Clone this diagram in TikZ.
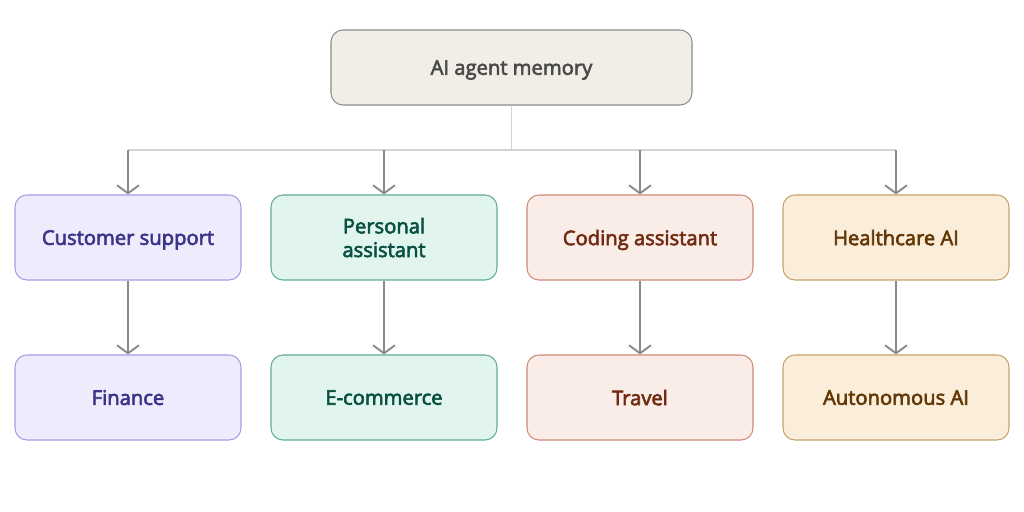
\documentclass[tikz,border=0pt]{standalone}
\usepackage{fontspec}
\setmainfont{Open Sans}[FakeBold=3]
\usetikzlibrary{arrows.meta, positioning}

\definecolor{topfill}{HTML}{F1EEE7}
\definecolor{topdraw}{HTML}{8C8C88}
\definecolor{toptext}{HTML}{4A4A48}
\definecolor{purfill}{HTML}{EEECFC}
\definecolor{purdraw}{HTML}{A39CE4}
\definecolor{purtext}{HTML}{3C3489}
\definecolor{grnfill}{HTML}{E1F5EE}
\definecolor{grndraw}{HTML}{5FAE8C}
\definecolor{grntext}{HTML}{085041}
\definecolor{redfill}{HTML}{FAECE7}
\definecolor{reddraw}{HTML}{D08A76}
\definecolor{redtext}{HTML}{712B13}
\definecolor{orgfill}{HTML}{FAEEDA}
\definecolor{orgdraw}{HTML}{C8A06C}
\definecolor{orgtext}{HTML}{633806}
\definecolor{busgray}{HTML}{D3D3D1}
\definecolor{arrgray}{HTML}{8A8A86}

\tikzset{
  box/.style={rounded corners=0.24cm, line width=0.6pt, minimum width=4.52cm,
    minimum height=1.7cm, align=center, text depth=0pt, font=\fontsize{11.5}{13.5}\selectfont},
  rootbox/.style={box, fill=topfill, draw=topdraw, text=toptext, minimum width=7.22cm, minimum height=1.5cm},
  purbox/.style={box, fill=purfill, draw=purdraw, text=purtext},
  grnbox/.style={box, fill=grnfill, draw=grndraw, text=grntext},
  redbox/.style={box, fill=redfill, draw=reddraw, text=redtext},
  orgbox/.style={box, fill=orgfill, draw=orgdraw, text=orgtext},
  bus/.style={draw=busgray, line width=0.7pt},
  feed/.style={draw=arrgray, line width=1.1pt, -{Straight Barb[length=1.6mm, width=4.4mm]}}
}

\begin{document}
\begin{tikzpicture}
\useasboundingbox (0,0) rectangle (20.48,-10.24);

\node (mem) [rootbox] at (10.23,-1.35) {AI agent memory};

\node (cust) [purbox] at (2.56,-4.75) {Customer support};
\node (pers) [grnbox] at (7.68,-4.75) {Personal\\assistant};
\node (code) [redbox] at (12.80,-4.75) {Coding assistant};
\node (hlth) [orgbox] at (17.92,-4.75) {Healthcare AI};

\node (fin) [purbox] at (2.56,-7.95) {Finance};
\node (ecom) [grnbox] at (7.68,-7.95) {E-commerce};
\node (trav) [redbox] at (12.80,-7.95) {Travel};
\node (auto) [orgbox] at (17.92,-7.95) {Autonomous AI};

% bus from the root
\coordinate (b1) at (cust.north |- 0,-3.0);
\coordinate (b2) at (pers.north |- 0,-3.0);
\coordinate (b3) at (code.north |- 0,-3.0);
\coordinate (b4) at (hlth.north |- 0,-3.0);
\draw [bus] (mem.south) -- (mem.south |- b1);
\draw [bus] (b1) -- (b4);

\draw [feed] (b1) -- (cust);
\draw [feed] (b2) -- (pers);
\draw [feed] (b3) -- (code);
\draw [feed] (b4) -- (hlth);

\draw [feed] (cust) -- (fin);
\draw [feed] (pers) -- (ecom);
\draw [feed] (code) -- (trav);
\draw [feed] (hlth) -- (auto);

\end{tikzpicture}
\end{document}
